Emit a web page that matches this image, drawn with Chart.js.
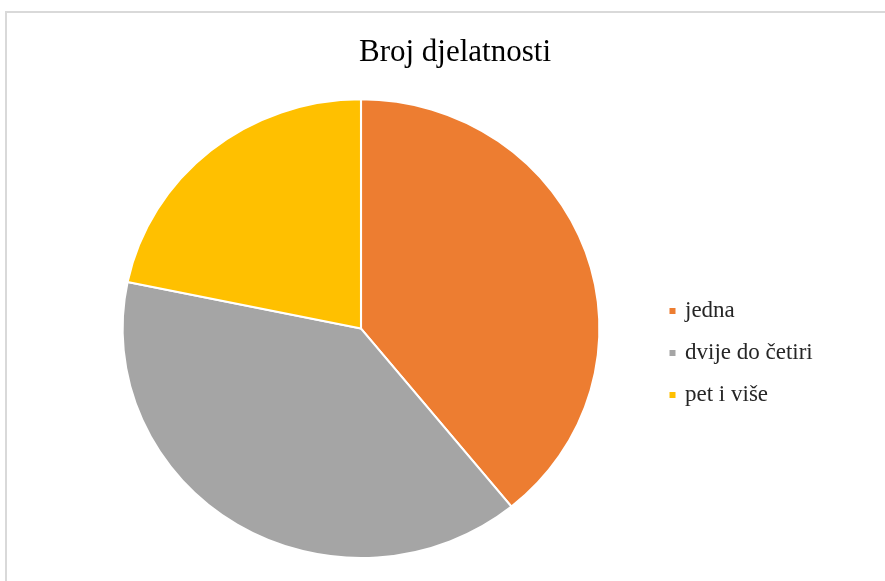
<!DOCTYPE html>
<html>
<head>
<meta charset="utf-8">
<script src="https://cdn.jsdelivr.net/npm/chart.js@4/dist/chart.umd.min.js"></script>
<style>
  html, body { margin: 0; padding: 0; background: #ffffff; }
  #wrap { position: relative; width: 885px; height: 581px; overflow: hidden; }
  #frame { position: absolute; left: 5px; top: 11px; width: 1000px; height: 1000px; border: 2px solid #d9d9d9; box-sizing: border-box; }
  #c { position: absolute; left: 0; top: 0; }
</style>
</head>
<body>
<div id="wrap">
  <div id="frame"></div>
  <canvas id="c" width="885" height="581"></canvas>
</div>
<script>
const titleText = "Broj djelatnosti";
const categories = ["jedna", "dvije do četiri", "pet i više"];
const values = [18, 18, 10];
const colors = ["#ED7D31", "#A5A5A5", "#FFC000"];

const stretchX = 238 / 229;
const LEGEND_WIDTH = 188;

const stretchPlugin = {
  id: 'stretch',
  beforeLayout(chart) {
    const lg = chart.legend;
    if (lg && !lg._wPatched) {
      const origFit = lg.fit;
      lg.fit = function () {
        origFit.call(this);
        this.width = LEGEND_WIDTH;
      };
      lg._wPatched = true;
    }
  },
  beforeDatasetsDraw(chart) {
    const arc = chart.getDatasetMeta(0).data[0];
    const ctx = chart.ctx;
    ctx.save();
    ctx.translate(arc.x, arc.y);
    ctx.scale(stretchX, 1);
    ctx.translate(-arc.x, -arc.y);
  },
  afterDatasetsDraw(chart) {
    chart.ctx.restore();
  }
};

new Chart(document.getElementById('c'), {
  type: 'pie',
  data: {
    labels: categories,
    datasets: [{
      data: values,
      backgroundColor: colors,
      borderColor: '#ffffff',
      borderWidth: 2
    }]
  },
  options: {
    responsive: false,
    animation: false,
    layout: { padding: { left: 69.5, right: 44.5, top: 0, bottom: 22 } },
    plugins: {
      title: {
        display: true,
        text: titleText,
        color: '#000000',
        font: { family: '"Liberation Serif", "Times New Roman", serif', size: 31, weight: 'normal' },
        padding: { top: 34, bottom: 27 }
      },
      legend: {
        position: 'right',
        title: {
          display: true,
          text: '',
          font: { size: 10 },
          padding: { top: 135, bottom: 0 }
        },
        labels: {
          usePointStyle: true,
          pointStyle: 'rect',
          boxWidth: 2,
          boxHeight: 8,
          padding: 19,
          color: '#262626',
          font: { family: '"Liberation Serif", "Times New Roman", serif', size: 23 }
        }
      },
      tooltip: { enabled: false }
    }
  },
  plugins: [stretchPlugin]
});
</script>
</body>
</html>
